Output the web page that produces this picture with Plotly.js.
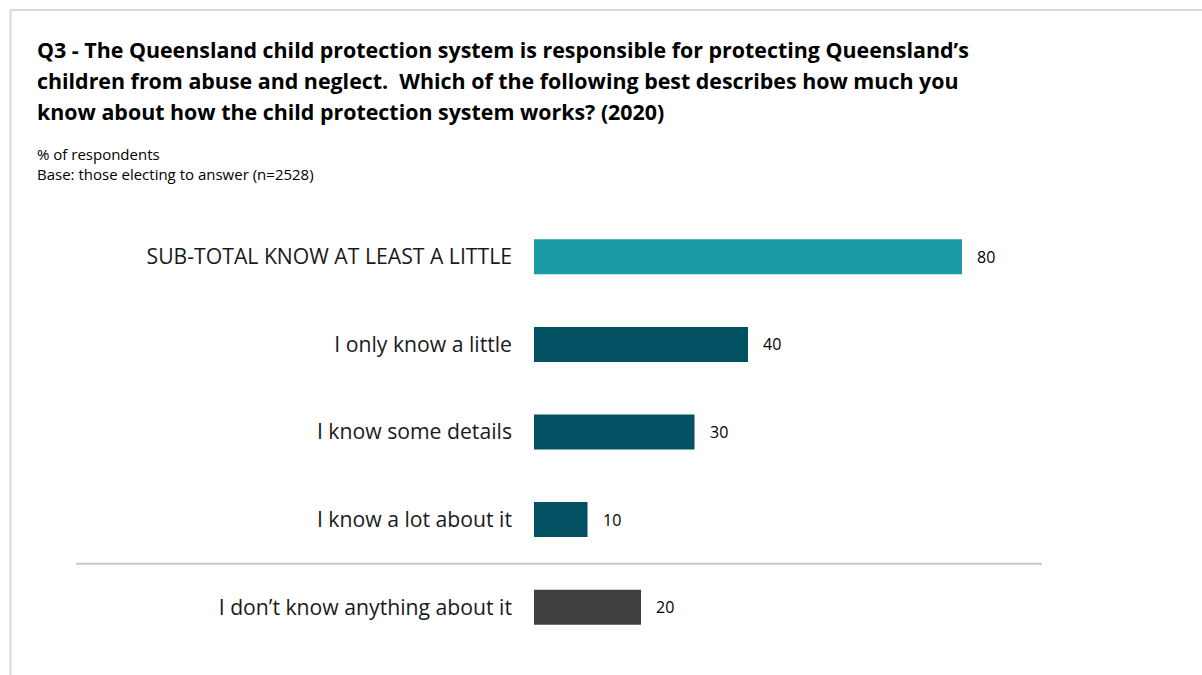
<!DOCTYPE html>
<html>
<head>
<meta charset="utf-8">
<script src="https://cdn.plot.ly/plotly-3.0.1.min.js"></script>
<style>
html,body{margin:0;padding:0;background:#fff;}
#chart{width:1202px;height:675px;}
</style>
</head>
<body>
<div id="chart"></div>
<script>
var categories = [
  "SUB-TOTAL KNOW AT LEAST A LITTLE",
  "I only know a little",
  "I know some details",
  "I know a lot about it",
  "I don\u2019t know anything about it"
];
var values = [80, 40, 30, 10, 20];
var barColors = ["#1a9ba6", "#015163", "#015163", "#015163", "#404040"];
var titleLines = [
  "Q3 - The Queensland child protection system is responsible for protecting Queensland\u2019s",
  "children from abuse and neglect.  Which of the following best describes how much you",
  "know about how the child protection system works? (2020)"
];
var subtitleLines = ["% of respondents", "Base: those electing to answer (n=2528)"];

var W = 1202, H = 675;
var L = 534, R = 1069, T = 213.25, B = 650.75;
function px(x){ return (x - L) / (R - L); }
function py(y){ return (B - y) / (B - T); }

var FONT = "'Open Sans', Lato, sans-serif";

var trace = {
  type: "bar",
  orientation: "h",
  x: values,
  y: categories,
  marker: {color: barColors},
  width: 0.4,
  hoverinfo: "skip"
};

var annotations = [];
titleLines.forEach(function(t, i){
  annotations.push({
    text: "<b>" + t + "</b>", xref: "paper", yref: "paper",
    x: px(35), y: py(50 + i * 31), xanchor: "left", yanchor: "middle",
    showarrow: false, font: {family: FONT, size: 21.4, color: "#000"}
  });
});
subtitleLines.forEach(function(t, i){
  annotations.push({
    text: t, xref: "paper", yref: "paper",
    x: px(35), y: py(154 + i * 20), xanchor: "left", yanchor: "middle",
    showarrow: false, font: {family: FONT, size: 15, color: "#000"}
  });
});
categories.forEach(function(c, i){
  annotations.push({
    text: String(values[i]), x: values[i], y: c, xref: "x", yref: "y",
    xanchor: "left", yanchor: "middle", xshift: 13, showarrow: false,
    font: {family: FONT, size: 16, color: "#000"}
  });
});

var shapes = [
  {type: "line", xref: "paper", yref: "paper", x0: px(10), x1: px(1202), y0: py(10.5), y1: py(10.5),
   line: {color: "#d9d9d9", width: 2}},
  {type: "line", xref: "paper", yref: "paper", x0: px(10.5), x1: px(10.5), y0: py(10), y1: py(675),
   line: {color: "#d9d9d9", width: 2}},
  {type: "line", xref: "paper", yref: "paper", x0: px(76), x1: px(1042), y0: py(563.5), y1: py(563.5),
   line: {color: "#c8c8c8", width: 2}}
];

var layout = {
  width: W, height: H,
  margin: {l: L, r: W - R, t: T, b: H - B, pad: 0},
  paper_bgcolor: "#fff", plot_bgcolor: "#fff",
  showlegend: false,
  xaxis: {range: [0, 100], visible: false, fixedrange: true},
  yaxis: {
    type: "category", autorange: "reversed", showgrid: false, zeroline: false,
    showline: false, ticks: "", ticklabelstandoff: 21,
    tickfont: {family: FONT, size: 21.2, color: "#1a1a1a"}, fixedrange: true
  },
  annotations: annotations,
  shapes: shapes
};

Plotly.newPlot("chart", [trace], layout, {displayModeBar: false, staticPlot: true});
</script>
</body>
</html>
